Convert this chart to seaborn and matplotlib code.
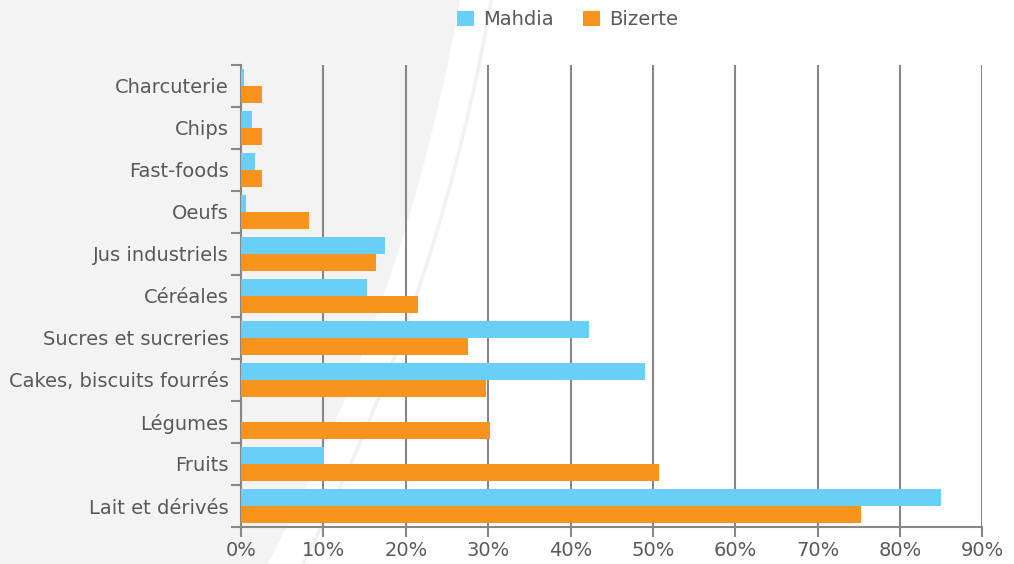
import numpy as np
import pandas as pd
import seaborn as sns
import matplotlib.pyplot as plt
from matplotlib.patches import Circle, Patch

aliments = ['Charcuterie', 'Chips', 'Fast-foods', 'Oeufs', 'Jus industriels', 'Céréales',
            'Sucres et sucreries', 'Cakes, biscuits fourrés', 'Légumes', 'Fruits', 'Lait et dérivés']
mahdia = [0.4, 1.3, 1.7, 0.6, 17.5, 15.3, 42.2, 49.0, 0.0, 10.1, 85.0]
bizerte = [2.5, 2.5, 2.5, 8.2, 16.4, 21.5, 27.5, 29.7, 30.2, 50.7, 75.2]
villes = ['Mahdia', 'Bizerte']
couleurs = ['#6ACFF6', '#F7941D']
xticks = [0, 10, 20, 30, 40, 50, 60, 70, 80, 90]

df = pd.DataFrame({
    'aliment': aliments * 2,
    'valeur': mahdia + bizerte,
    'ville': ['Mahdia'] * len(aliments) + ['Bizerte'] * len(aliments),
})

sns.set_style('white')
plt.rcParams['font.family'] = ['DejaVu Sans']
txt = '#595959'
grey = '#878787'
fs = 14

fig = plt.figure(figsize=(10.14, 5.64), dpi=100, facecolor='white')
# decorative background arcs
fig.patches.append(Circle((-14.45, 8.98), 19.34, transform=fig.dpi_scale_trans,
                          facecolor='#f3f3f3', edgecolor='none', zorder=-10))
fig.patches.append(Circle((-14.45, 8.98), 19.65, transform=fig.dpi_scale_trans,
                          facecolor='none', edgecolor='#f1f1f1', lw=2.5, zorder=-9))

ax = fig.add_axes([0.2377, 0.0656, 0.7312, 0.8192])
ax.patch.set_alpha(0)
sns.barplot(data=df, x='valeur', y='aliment', hue='ville', orient='h',
            palette=couleurs, saturation=1, width=0.8, linewidth=0, ax=ax,
            legend=False, zorder=3)

ax.set_xlim(0, 90)
ax.set_ylim(10.5, -0.5)
ax.set_xticks(xticks)
ax.set_xticklabels([f'{v}%' for v in xticks], color=txt, fontsize=fs)
ax.set_yticks(range(len(aliments)))
ax.set_yticklabels(aliments, color=txt, fontsize=fs)
ax.set_yticks(np.arange(-0.5, len(aliments), 1), minor=True)
ax.tick_params(axis='y', which='major', length=0, pad=9)
ax.tick_params(axis='y', which='minor', length=7, width=1.5, color=grey, left=True)
ax.tick_params(axis='x', length=7, width=1.5, color=grey, bottom=True, pad=3)
ax.set_xlabel('')
ax.set_ylabel('')
ax.grid(axis='x', color=grey, lw=1.5, zorder=0)
ax.set_axisbelow(True)
for s in ['top', 'right']:
    ax.spines[s].set_visible(False)
for s in ['left', 'bottom']:
    ax.spines[s].set_color(grey)
    ax.spines[s].set_linewidth(1.5)

handles = [Patch(facecolor=c, edgecolor='none', label=v) for c, v in zip(couleurs, villes)]
leg = fig.legend(handles=handles, loc='center', bbox_to_anchor=(0.56, 0.965), ncol=2,
                 frameon=False, fontsize=fs, handlelength=0.85, handleheight=0.85,
                 columnspacing=1.5, handletextpad=0.5)
for t in leg.get_texts():
    t.set_color(txt)

fig.savefig('out.png', dpi=100)
